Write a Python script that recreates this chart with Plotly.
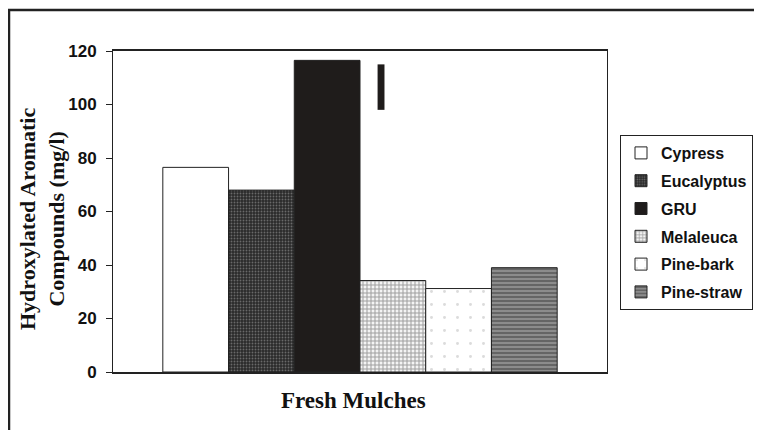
import plotly.graph_objects as go

# ---- data ----
mulches = ["Cypress", "Eucalyptus", "GRU", "Melaleuca", "Pine-bark", "Pine-straw"]
values = [76.5, 68.0, 116.5, 34.2, 31.2, 39.0]
positions = [0, 1, 2, 3, 4, 5]
category_label = "Fresh Mulches"
y_title = "Hydroxylated Aromatic<br>Compounds (mg/l)"
y_ticks = [0, 20, 40, 60, 80, 100, 120]
# stray vertical range mark drawn in the original figure
mark_x = [2.82]
mark_low = [98.0]
mark_high = [115.0]

# ---- styles ----
styles = {
    "Cypress":    dict(color="#ffffff", pattern=dict(shape="")),
    "Eucalyptus": dict(color="#2a2a2a", pattern=dict(shape=".", fgcolor="#a8a8a8", size=3, solidity=0.3, fillmode="overlay")),
    "GRU":        dict(color="#1f1c1b", pattern=dict(shape="")),
    "Melaleuca":  dict(color="#f4f4f4", pattern=dict(shape="+", fgcolor="#4a4a4a", size=4, solidity=0.45, fillmode="overlay")),
    "Pine-bark":  dict(color="#ffffff", pattern=dict(shape=".", fgcolor="#b8b8b8", size=13, solidity=0.04, fillmode="overlay")),
    "Pine-straw": dict(color="#8c8c8c", pattern=dict(shape="-", fgcolor="#2a2a2a", size=4, solidity=0.4, fillmode="overlay")),
}

fig = go.Figure()
for name, val, pos in zip(mulches, values, positions):
    st = styles[name]
    fig.add_trace(go.Bar(
        x=[pos], y=[val], name=name, width=1.0,
        legendgroup=name,
        marker=dict(color=st["color"], pattern=st["pattern"],
                    line=dict(color="#222222", width=1)),
    ))

fig.add_trace(go.Bar(
    x=mark_x, y=[h - l for h, l in zip(mark_high, mark_low)], base=mark_low,
    width=0.105, showlegend=False,
    marker=dict(color="#1f1c1b", line=dict(color="#1f1c1b", width=0)),
))

# page body has an 8px margin: work in reference pixels and shift by 8
OFF = 8
W, H = 762 - OFF, 430 - OFF
L, T = 113 - OFF, 51 - OFF
R = W - (607 - OFF)
B = H - (372 - OFF)
pw, ph = W - L - R, H - T - B

def px_x(p):
    return (p - OFF - L) / pw

def px_y(p):
    return (H - B - (p - OFF)) / ph

fig.update_layout(
    width=W, height=H,
    margin=dict(l=L, r=R, t=T, b=B, autoexpand=False),
    paper_bgcolor="white", plot_bgcolor="white",
    barmode="overlay",
    showlegend=True,
    legend=dict(
        x=px_x(620), y=px_y(135), xanchor="left", yanchor="top",
        bordercolor="#222222", borderwidth=1,
        font=dict(family="Liberation Sans, Arial", size=16, color="#111111", weight="bold"),
        traceorder="grouped", tracegroupgap=4,
        itemwidth=30,
    ),
    xaxis=dict(
        range=[-1.258, 6.258], showticklabels=False, ticks="",
        showgrid=False, zeroline=False,
        showline=True, linecolor="#222222", linewidth=1.5, mirror=True,
    ),
    yaxis=dict(
        range=[0, 120], tickvals=y_ticks, ticks="outside", ticklen=6,
        ticklabelstandoff=6,
        tickcolor="#222222", showgrid=False, zeroline=False,
        showline=True, linecolor="#222222", linewidth=1, mirror=True,
        tickfont=dict(family="Liberation Sans, Arial", size=17, color="#111111", weight="bold"),
    ),
    annotations=[
        dict(text=category_label, xref="paper", yref="paper",
             x=px_x(353), y=px_y(400), xanchor="center", yanchor="middle",
             showarrow=False,
             font=dict(family="Liberation Serif, Times New Roman", size=23, color="#111111", weight="bold")),
        dict(text=y_title, xref="paper", yref="paper", textangle=-90,
             x=px_x(42), y=px_y(219), xanchor="center", yanchor="middle",
             showarrow=False,
             font=dict(family="Liberation Serif, Times New Roman", size=22, color="#111111", weight="bold")),
    ],
    shapes=[dict(type="rect", xref="paper", yref="paper",
                 x0=px_x(9), x1=px_x(790), y0=px_y(460), y1=px_y(10),
                 line=dict(color="#222222", width=2.5), layer="below")],
)

fig.write_html("out.html")
